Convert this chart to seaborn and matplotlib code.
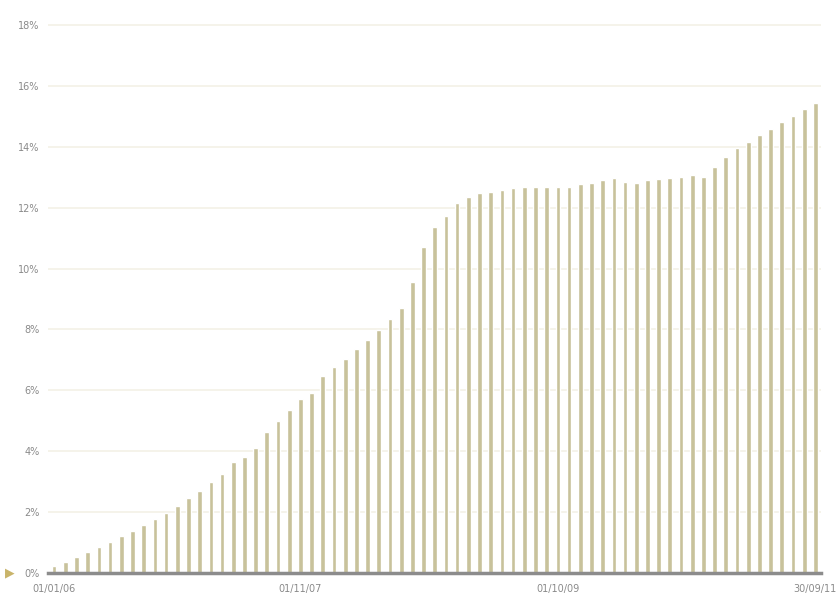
import matplotlib
matplotlib.use("Agg")
import matplotlib.pyplot as plt
import seaborn as sns
import pandas as pd

fechas = pd.date_range("2006-01-01", periods=69, freq="MS").strftime("%d/%m/%y").tolist()
valores = [
    0.23, 0.35, 0.53, 0.70, 0.85, 1.03, 1.22, 1.39, 1.56, 1.76,
    1.98, 2.21, 2.45, 2.70, 2.98, 3.26, 3.65, 3.82, 4.09, 4.63,
    5.00, 5.35, 5.71, 5.92, 6.47, 6.77, 7.02, 7.35, 7.67, 7.99,
    8.33, 8.72, 9.55, 10.71, 11.37, 11.74, 12.15, 12.35, 12.48, 12.53,
    12.57, 12.64, 12.69, 12.69, 12.68, 12.67, 12.69, 12.77, 12.80, 12.90,
    12.96, 12.85, 12.80, 12.90, 12.95, 12.98, 13.02, 13.06, 13.02, 13.34,
    13.66, 13.95, 14.17, 14.40, 14.59, 14.82, 15.00, 15.25, 15.44,
]
etiquetas_x = ["01/01/06", "01/11/07", "01/10/09", "30/09/11"]
pos_etiquetas = [0, 22, 45, 68]
ticks_y = [0, 2, 4, 6, 8, 10, 12, 14, 16, 18]

df = pd.DataFrame({"fecha": fechas, "valor": valores})

sns.set_style("white")
fig = plt.figure(figsize=(8.39, 5.94), dpi=100)
ax = fig.add_axes([0.0572, 0.0354, 0.9213, 0.948])

sns.barplot(data=df, x="fecha", y="valor", color="#c8c29b", width=0.42,
            saturation=1, ax=ax, zorder=2)

ax.set_xlim(-0.55, 68.5)
ax.set_ylim(0, 18.5)
ax.set_yticks(ticks_y)
ax.set_yticklabels([f"{t}%" for t in ticks_y])
ax.set_xticks(pos_etiquetas)
ax.set_xticklabels(etiquetas_x)

ax.grid(axis="y", color="#f3f1e6", linewidth=1.2, zorder=0)
ax.set_axisbelow(True)
for s in ["top", "right", "left"]:
    ax.spines[s].set_visible(False)
ax.spines["bottom"].set_color("#8c8c8c")
ax.spines["bottom"].set_linewidth(2.5)
ax.spines["bottom"].set_zorder(3)

ax.tick_params(axis="both", length=0, labelsize=7, labelcolor="#8a8a8a")
ax.tick_params(axis="y", pad=6)
ax.tick_params(axis="x", pad=8)
ax.set_xlabel("")
ax.set_ylabel("")

# pequeño marcador a la izquierda del 0%
ax.text(-0.05, 0, "\u25B6", transform=ax.get_yaxis_transform(), ha="center",
        va="center", fontsize=9, color="#c9b46a", clip_on=False)

fig.savefig("out.png", dpi=100)
